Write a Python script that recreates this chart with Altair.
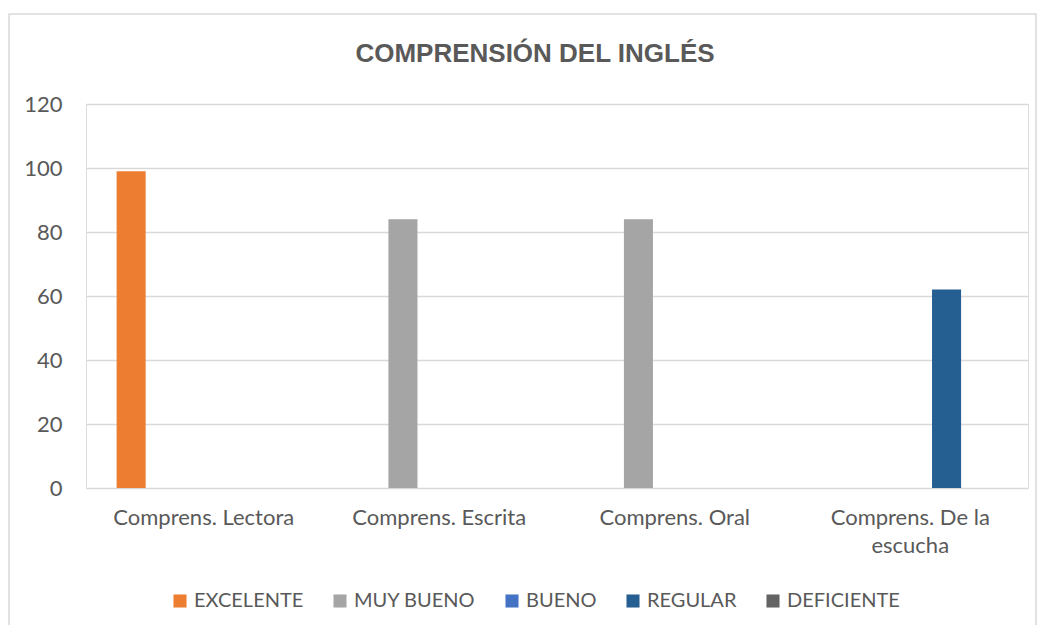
import altair as alt
import pandas as pd

categories = ["Comprens. Lectora", "Comprens. Escrita", "Comprens. Oral", "Comprens. De la escucha"]
series = ["EXCELENTE", "MUY BUENO", "BUENO", "REGULAR", "DEFICIENTE"]
colors = ["#ED7D31", "#A5A5A5", "#4472C4", "#255E91", "#636363"]

excelente = [99, 0, 0, 0]
muy_bueno = [0, 84, 84, 0]
bueno = [0, 0, 0, 0]
regular = [0, 0, 0, 62]
deficiente = [0, 0, 0, 0]

rows = []
for s, vals in zip(series, [excelente, muy_bueno, bueno, regular, deficiente]):
    for c, v in zip(categories, vals):
        if v:
            rows.append({"cat": c, "serie": s, "valor": v})
df = pd.DataFrame(rows)

TXT = "#595959"
LBL_FONT = "Lato"

label_expr = ("datum.value == 'Comprens. De la escucha' ? "
              "['Comprens. De la', 'escucha'] : datum.value")

bars = alt.Chart(df).mark_bar().encode(
    x=alt.X("cat:N", sort=categories,
            scale=alt.Scale(domain=categories, paddingInner=0.26, paddingOuter=0.13),
            axis=alt.Axis(title=None, labelAngle=0, domain=False, ticks=False, tickSize=0,
                          labelPadding=19, labelExpr=label_expr, labelFont=LBL_FONT,
                          labelFontSize=22, labelColor=TXT, labelLineHeight=28,
                          labelLimit=0)),
    xOffset=alt.XOffset("serie:N", sort=series,
                        scale=alt.Scale(domain=series, paddingInner=0.2, paddingOuter=0)),
    y=alt.Y("valor:Q", scale=alt.Scale(domain=[0, 120], nice=False),
            axis=alt.Axis(title=None, values=[0, 20, 40, 60, 80, 100, 120], domain=False,
                          ticks=False, tickSize=0, labelPadding=24, grid=True,
                          gridColor="#D9D9D9", gridWidth=1.5, labelFont=LBL_FONT,
                          labelFontSize=22, labelColor=TXT)),
    color=alt.Color("serie:N", sort=series,
                    scale=alt.Scale(domain=series, range=colors),
                    legend=alt.Legend(title=None, orient="none", direction="horizontal",
                                      legendX=84, legendY=487, columns=5,
                                      symbolType="square", symbolSize=170,
                                      symbolStrokeWidth=0, labelFont=LBL_FONT,
                                      labelFontSize=20, labelColor=TXT, labelOffset=4,
                                      columnPadding=26, symbolOpacity=1)),
)

frame = alt.Chart(pd.DataFrame({"a": [0]})).mark_rect(
    fill=None, stroke="#D9D9D9", strokeWidth=1.5
).encode(
    x=alt.value(-77), x2=alt.value(950), y=alt.value(-90), y2=alt.value(600)
)

chart = alt.layer(frame, bars).properties(
    width=942,
    height=384,
    autosize=alt.AutoSizeParams(type="none"),
    padding={"left": 78, "top": 96, "right": 9, "bottom": 137},
    title=alt.TitleParams("COMPRENSIÓN DEL INGLÉS", font="Liberation Sans", fontSize=26,
                          fontWeight="bold", color=TXT, anchor="middle", dx=-22,
                          baseline="alphabetic", offset=32, dy=107),
).configure_view(stroke=None).configure(background="white")

chart.save("out.html", embed_options={"renderer": "svg", "actions": False})
